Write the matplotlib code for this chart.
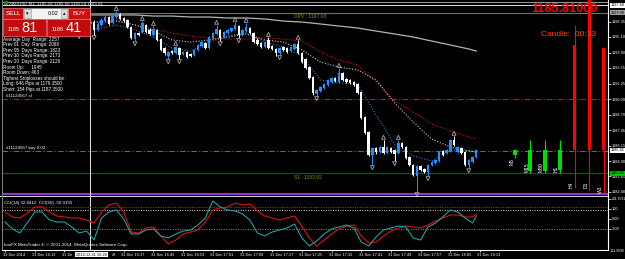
import matplotlib
matplotlib.use('Agg')
import matplotlib.pyplot as plt
import numpy as np
from matplotlib.patches import Rectangle
from matplotlib.transforms import blended_transform_factory as btf, ScaledTranslation

# ---------------- data ----------------
bar_open = [1196.48,1196.31,1196.07,1195.82,1195.66,1195.90,1196.23,1196.56,1196.80,1196.89,
            1196.72,1196.80,1196.56,1196.31,1196.39,1196.15,1196.07,1196.15,1195.90,1195.74,
            1195.49,1195.66,1195.90,1196.15,1196.31,1195.66,1196.07,1196.39,1196.72,1196.23,
            1196.72,1196.97,1196.64,1196.48,1195.90,1194.92,1195.41,1195.49,1196.07,1195.66,
            1195.25,1195.66,1194.92,1194.18,1193.52,1193.93,1193.77,1194.18,1193.69,1193.85,
            1193.69,1193.61,1194.02,1194.34,1194.59,1194.18,1195.00,1195.33,1195.66,1195.08,
            1195.41,1195.57,1195.74,1195.98,1195.25,1195.57,1195.82,1195.41,1194.84,1194.59,
            1194.26,1194.84,1194.34,1194.10,1193.77,1194.26,1194.18,1193.93,1194.10,1194.51,
            1193.77,1193.28,1192.62,1191.80,1190.41,1190.66,1190.90,1191.15,1191.39,1191.72,
            1191.39,1192.13,1191.64,1191.56,1191.39,1191.23,1190.57,1188.52,1187.30,1185.41,
            1185.98,1185.66,1186.07,1185.57,1185.98,1185.82,1185.57,1186.39,1186.07,1185.25,
            1184.59,1183.69,1184.51,1184.26,1184.02,1184.59,1184.75,1184.92,1185.74,1185.57,
            1185.74,1186.64,1185.66,1185.98,1185.66,1184.59,1184.84,1185.25]
bar_close = [1196.31,1196.07,1195.82,1195.66,1195.90,1196.23,1196.56,1196.80,1196.89,1196.72,
             1196.80,1196.56,1196.31,1196.39,1196.15,1196.07,1196.15,1195.90,1195.74,1195.49,
             1195.66,1195.90,1196.15,1196.31,1195.66,1196.15,1196.48,1196.72,1196.15,1196.80,
             1197.05,1196.56,1196.39,1195.90,1195.00,1195.41,1195.25,1196.23,1195.49,1195.33,
             1195.74,1194.84,1194.02,1193.77,1193.85,1193.77,1194.26,1193.61,1193.85,1193.44,
             1193.52,1194.02,1194.43,1194.67,1194.18,1195.08,1195.41,1195.74,1195.00,1195.49,
             1195.66,1195.82,1196.07,1195.25,1195.66,1195.90,1195.41,1194.67,1194.51,1194.26,
             1194.67,1194.18,1194.10,1193.77,1194.18,1194.02,1193.85,1194.26,1194.51,1193.77,
             1193.03,1192.54,1191.72,1190.49,1190.74,1190.98,1191.23,1191.56,1191.72,1191.48,
             1192.13,1191.56,1191.39,1191.31,1191.15,1190.49,1188.44,1187.21,1185.41,1185.98,
             1185.66,1186.07,1185.57,1186.07,1185.66,1185.49,1186.39,1186.07,1185.16,1184.59,
             1183.77,1184.51,1184.18,1184.02,1184.59,1184.84,1185.00,1185.66,1185.41,1185.82,
             1186.64,1186.23,1186.07,1185.57,1184.59,1185.00,1185.25,1185.81]
bar_high = [1196.56,1196.39,1196.15,1195.90,1195.98,1196.31,1196.64,1196.89,1197.05,1196.97,
            1196.89,1196.89,1196.64,1196.48,1196.48,1196.23,1196.23,1196.23,1195.98,1195.82,
            1195.74,1195.98,1196.23,1196.39,1196.48,1196.31,1196.64,1196.89,1196.80,1196.97,
            1197.21,1197.05,1196.72,1196.56,1195.98,1195.49,1195.49,1196.39,1196.15,1195.82,
            1195.98,1195.74,1195.00,1194.26,1193.93,1194.02,1194.34,1194.26,1193.93,1193.93,
            1193.77,1194.10,1194.51,1194.75,1194.67,1195.16,1195.49,1196.07,1195.74,1195.57,
            1195.74,1195.90,1196.31,1196.07,1195.74,1196.23,1195.90,1195.49,1195.00,1194.67,
            1194.75,1195.08,1194.43,1194.18,1194.26,1194.34,1194.26,1194.34,1194.59,1194.84,
            1193.85,1193.36,1192.70,1191.89,1190.82,1191.07,1191.31,1191.64,1191.80,1191.80,
            1192.54,1192.21,1191.72,1191.64,1191.48,1191.31,1190.66,1188.61,1187.38,1186.07,
            1186.07,1186.15,1186.64,1186.15,1186.07,1185.90,1186.64,1186.48,1186.15,1185.33,
            1184.67,1184.59,1184.59,1184.34,1184.67,1184.92,1185.08,1185.74,1185.82,1185.90,
            1186.72,1186.97,1186.15,1186.07,1185.74,1185.08,1185.33,1185.90]
bar_low = [1196.23,1195.98,1195.74,1195.49,1195.41,1195.82,1196.15,1196.48,1196.64,1196.64,
           1196.56,1196.48,1196.23,1196.15,1196.07,1195.90,1195.98,1195.82,1195.57,1195.41,
           1195.33,1195.57,1195.82,1196.07,1195.25,1195.57,1195.98,1196.31,1196.07,1196.15,
           1196.64,1196.48,1196.31,1195.82,1194.92,1194.75,1195.16,1195.41,1195.41,1195.25,
           1195.16,1194.75,1193.93,1193.61,1193.28,1193.69,1193.69,1193.28,1193.61,1193.36,
           1193.44,1193.52,1193.93,1194.26,1194.10,1194.10,1194.92,1195.25,1194.75,1195.00,
           1195.33,1195.49,1195.66,1195.00,1195.16,1195.49,1195.33,1194.59,1194.43,1194.18,
           1194.18,1194.10,1194.02,1193.52,1193.61,1193.93,1193.77,1193.85,1194.02,1193.69,
           1192.95,1192.46,1191.64,1190.33,1190.25,1190.57,1190.82,1191.07,1191.31,1191.39,
           1191.31,1191.48,1191.31,1191.23,1191.07,1190.41,1188.36,1187.13,1185.33,1184.59,
           1185.49,1185.57,1185.49,1185.49,1185.57,1184.92,1185.49,1185.98,1185.08,1184.51,
           1183.69,1182.38,1184.10,1183.93,1183.69,1184.51,1184.67,1184.84,1185.33,1185.49,
           1185.66,1186.15,1185.57,1185.49,1184.51,1184.34,1184.75,1185.16]
frac_up = [30, 37, 40, 46, 57, 62, 65, 71, 79, 90, 102, 106, 121]
frac_dn = [20, 24, 35, 44, 47, 58, 63, 74, 84, 99, 105, 111, 114, 125]

ma_idx = [0, 5, 10, 15, 20, 25, 30, 35, 40, 45, 50, 55, 60, 65, 70, 75, 80, 85, 90, 95,
          100, 105, 110, 115, 120, 125, 127]
ma_red = [1196.31,1196.31,1196.31,1196.31,1196.31,1196.31,1196.48,1196.07,1195.74,1195.41,
          1195.16,1195.00,1194.92,1194.92,1195.00,1194.92,1194.75,1193.85,1193.20,1192.79,
          1191.39,1189.84,1188.93,1187.95,1187.38,1186.89,1186.72]
ma_white = [1196.48,1196.39,1196.39,1196.31,1196.23,1196.31,1196.39,1196.07,1195.57,1194.84,
            1194.67,1194.84,1195.08,1195.33,1194.84,1194.67,1194.02,1193.03,1192.62,1192.38,
            1191.56,1189.67,1188.11,1186.72,1186.07,1185.74,1185.66]
ma_blue = [1196.15,1196.07,1196.31,1196.39,1195.98,1195.74,1196.07,1195.66,1195.08,1194.18,
           1193.93,1194.67,1195.16,1195.41,1194.67,1194.26,1193.52,1191.56,1191.31,1191.23,
           1188.69,1186.31,1185.33,1184.92,1185.82,1185.74,1185.66]
ma_gray = [1196.97,1196.97,1196.97,1196.97,1196.89,1196.89,1196.89,1196.89,1196.80,1196.80,
           1196.72,1196.72,1196.64,1196.64,1196.56,1196.39,1196.31,1196.15,1195.98,1195.82,
           1195.57,1195.33,1195.08,1194.75,1194.43,1194.10,1193.93]

cci_idx = list(range(0, 128, 2)) + [127]
cci14 = [-30,-100,-140,-40,70,70,-10,-30,-30,-80,-140,-120,-210,10,70,90,0,-150,-150,-110,
         -100,-170,-190,-150,-120,-110,-60,10,180,120,90,80,50,-10,-140,-170,-130,-110,-90,-50,
         -190,-270,-220,-150,-100,-80,-60,-90,-230,-270,-180,-110,-90,-70,-80,-190,-210,-80,-40,20,
         90,70,10,-40,30]
cci50 = [70,20,10,60,120,120,70,30,20,10,10,-10,-40,70,140,160,70,-130,-140,-90,
         -80,-170,-250,-210,-150,-130,-110,-30,90,110,120,160,140,150,80,30,10,-10,10,30,
         -70,-190,-270,-210,-150,-100,-70,-60,-170,-240,-230,-170,-120,-90,-70,-80,-90,-60,-20,10,
         40,40,20,20,50]
cci_levels = [120, 90, -100]
cci_level_colors = ['#c03018', '#d0d0d0', '#909090']

time_idx = list(range(0, 129, 8))
time_labels = ['31 Dec 2014', '31 Dec 16:13', '31 Dec 16:21', '31 Dec 16:29', '31 Dec 16:37',
               '31 Dec 16:45', '31 Dec 16:53', '31 Dec 17:01', '31 Dec 17:09', '31 Dec 17:17',
               '31 Dec 17:25', '31 Dec 17:33', '31 Dec 17:41', '31 Dec 17:49', '31 Dec 17:57',
               '31 Dec 18:05', '31 Dec 18:13']
cursor_label = '2014.12.31 16:28'
price_ticks = [1196.35, 1195.10, 1193.80, 1192.55, 1191.25, 1190.00, 1188.70, 1187.45,
               1186.15, 1184.90, 1183.65, 1182.40]

tf_names = ['M5', 'M15', 'M30', 'H1', 'H4', 'D1', 'W1']
tf_open = [1185.41, 1184.10, 1184.10, 1184.18, 1194.43, 1199.50, 1194.18]
tf_high = [1185.90, 1186.64, 1186.64, 1186.64, 1196.07, 1199.80, 1194.18]
tf_low = [1185.16, 1183.93, 1183.93, 1183.93, 1182.70, 1182.54, 1182.30]
tf_close = [1185.81, 1185.81, 1185.81, 1185.81, 1185.81, 1185.81, 1185.81]

level_top = [1197.92, 1197.68]
level_dpv = 1197.08
level_sl = 1190.00
level_buy = 1185.74
level_s1 = 1183.92
level_purple = 1182.21
bid_price = 1185.81
vline_bar = 23

info_rows = ["Average Day  Range: 2257", "Prev 01  Day  Range: 2068", "Prev 05  Days Range: 1823",
             "Prev 10  Days Range: 2173", "Prev 20  Days Range: 2126", "Room Up:      1945",
             "Room Down: 463", "Tighest Stoplosses should be :", "Long: 646 Pips at 1179.3500",
             "Short: 154 Pips at 1187.3500"]

# ---------------- figure ----------------
W, H = 625, 259
plt.rcParams['font.family'] = ['Liberation Sans', 'DejaVu Sans']
fig = plt.figure(figsize=(W / 100, H / 100), dpi=100, facecolor='black')

def fbox(x0, y0, x1, y1):
    return [x0 / W, 1 - y1 / H, (x1 - x0) / W, (y1 - y0) / H]

ax = fig.add_axes(fbox(2, 0, 608, 196))
axc = fig.add_axes(fbox(2, 197, 608, 250))
XL = (-0.81, 162.5)
for a in (ax, axc):
    a.set_facecolor('black')
    a.set_xlim(*XL)
    for s in ('top', 'bottom', 'left'):
        a.spines[s].set_visible(False)
    a.spines['right'].set_color('white')
    a.spines['right'].set_linewidth(0.8)
ax.set_ylim(1182.049, 1198.115)
axc.set_ylim(-310, 220)

TS = 2.8  # tiny label font size

# --- main price panel ---
o = np.array(bar_open); c = np.array(bar_close)
hi = np.array(bar_high); lo = np.array(bar_low)
idx = np.arange(len(c))
cols = np.where(c >= o, '#1e90ff', '#ffffff')
ax.vlines(idx, lo, hi, colors=cols, lw=0.7, zorder=4)
ax.bar(idx, np.maximum(np.abs(c - o), 0.03), bottom=np.minimum(o, c), width=0.66,
       color=cols, lw=0, zorder=5)

ax.plot(ma_idx, ma_gray, color='#b4b4b4', lw=0.9, zorder=3)
ax.plot(ma_idx, ma_red, color='#d01010', lw=0.8, ls=(0, (1, 1.5)), zorder=3)
ax.plot(ma_idx, ma_white, color='#c8c8c8', lw=0.8, ls=(0, (1, 1.5)), zorder=3)
ax.plot(ma_idx, ma_blue, color='#3a78c8', lw=0.8, ls=(0, (1, 1.5)), zorder=3)

ax.scatter(frac_up, hi[frac_up] + 0.22, marker='^', s=8, facecolors='none',
           edgecolors='#a8a8a8', linewidths=0.6, zorder=6)
ax.scatter(frac_dn, lo[frac_dn] - 0.22, marker='v', s=8, facecolors='none',
           edgecolors='#a8a8a8', linewidths=0.6, zorder=6)

ax.axhline(level_top[0], color='#9a9a9a', lw=0.7)
ax.axhline(level_top[1], color='#e0e0e0', lw=0.7)
ax.axhline(level_dpv, color='#707070', lw=0.8)
ax.axhline(level_sl, color='#d01010', lw=0.8, ls=(0, (5, 2, 1, 2)))
ax.axhline(level_buy, color='#10a010', lw=0.8, ls=(0, (5, 2, 1, 2)))
ax.axhline(level_s1, color='#006400', lw=0.9)
ax.axhline(level_purple, color='#9932cc', lw=1.5)
ax.axvline(vline_bar, color='#e8e8e8', lw=0.7, zorder=2)
axc.axvline(vline_bar, color='#e8e8e8', lw=0.7, zorder=2)

ax.text(78, level_dpv - 0.1, 'DPV : %.2f' % level_dpv, color='#8c8c00', fontsize=3.6,
        ha='left', va='top')
ax.text(78, level_s1 - 0.18, 'S1 : %.2f' % level_s1, color='#8c8c00', fontsize=3.6,
        ha='left', va='top')
ax.text(0.2, level_sl + 0.06, '#11124567 sl', color='white', fontsize=3.2, ha='left', va='bottom')
ax.text(0.2, level_buy + 0.06, '#11124567 buy 0.02', color='white', fontsize=3.2,
        ha='left', va='bottom')

# multi timeframe candles
tf_pos = [137.5, 141.5, 145.5, 149.5, 153.5, 157.5, 161.3]
for k, name in enumerate(tf_names):
    col = '#00e000' if tf_close[k] >= tf_open[k] else '#ff0000'
    ax.vlines(tf_pos[k], tf_low[k], tf_high[k], colors=col, lw=0.8, zorder=4)
    ax.bar(tf_pos[k], abs(tf_close[k] - tf_open[k]), bottom=min(tf_open[k], tf_close[k]),
           width=0.95, color=col, lw=0, zorder=4)
tf_lab_y = [1184.84, 1184.43, 1184.43, 1184.26, 1182.95, 1182.95, 1182.62]
for k, name in enumerate(tf_names):
    ax.text(tf_pos[k] - 0.9, tf_lab_y[k], name, color='white', fontsize=3.6, rotation=90,
            ha='center', va='center', zorder=7)

# right axis
ax.yaxis.tick_right()
ax.set_yticks(price_ticks)
ax.set_yticklabels(['%.2f' % v for v in price_ticks])
ax.tick_params(axis='y', colors='white', labelsize=TS, length=2, width=0.5, pad=0.6)
ax.set_xticks([])
tr = btf(ax.transAxes, ax.transData)
for val, fc in ((bid_price, 'white'), (level_s1, '#00c000'), (level_dpv, '#a0a0a0'),
                (level_top[1], 'white')):
    ax.text(1.004, val, '%.2f' % val, transform=tr, fontsize=TS, color='black',
            va='center', ha='left', bbox=dict(boxstyle='square,pad=0.12', fc=fc, ec='none'),
            zorder=8, clip_on=False)

# --- CCI panel ---
axc.plot(cci_idx, cci50, color='#e01010', lw=0.8, zorder=3)
axc.plot(cci_idx, cci14, color='#20a0a0', lw=0.8, zorder=3)
for lv, lc in zip(cci_levels, cci_level_colors):
    axc.axhline(lv, color=lc, lw=0.7, ls=(0, (1, 1.5)), zorder=2)
axc.yaxis.tick_right()
axc.set_yticks([200, 100, 0, -100])
axc.set_yticklabels(['241.8731', '100', '0.00', '-100'])
axc.tick_params(axis='y', colors='white', labelsize=TS, length=2, width=0.5, pad=0.6)
for lab in axc.get_yticklabels():
    if len(lab.get_text()) > 6:
        lab.set_fontsize(2.4)
axc.text(1.003, -0.02, '-111.9938', transform=axc.transAxes, fontsize=2.4, color='white',
         ha='left', va='center', clip_on=False)

# time axis: the cursor box hides part of two labels, as in the reference
shown_labels = list(time_labels)
shown_labels[2] = time_labels[2][:5]
shown_labels[3] = ''
axc.set_xticks(time_idx)
axc.set_xticklabels(shown_labels, ha='left')
axc.tick_params(axis='x', colors='white', labelsize=TS, length=1.5, width=0.5, pad=1)
shift = ScaledTranslation(-2.5 / 100, 0, fig.dpi_scale_trans)
for lab in axc.get_xticklabels():
    lab.set_transform(lab.get_transform() + shift)
axc.spines['bottom'].set_visible(True)
axc.spines['bottom'].set_color('white')
axc.spines['bottom'].set_linewidth(0.8)
axc.text(0.003, 0.93, 'CCI(14) 32.8412  CCI(50) -50.9155', transform=axc.transAxes,
         fontsize=3.2, color='white', ha='left', va='top')
axc.text(0.003, 0.05, 'IronFX MetaTrader 4, \u00a9 2001-2014, MetaQuotes Software Corp.',
         transform=axc.transAxes, fontsize=3.2, color='white', ha='left', va='bottom')

# --- overlay (panel, texts) in pixel coordinates ---
ov = fig.add_axes([0, 0, 1, 1], zorder=10)
ov.set_xlim(0, W); ov.set_ylim(H, 0); ov.axis('off'); ov.patch.set_alpha(0)

def rect(x0, y0, x1, y1, fc, ec='none', lw=0.5):
    ov.add_patch(Rectangle((x0, y0), x1 - x0, y1 - y0, fc=fc, ec=ec, lw=lw))

# separator between windows
rect(0, 196, 608, 197.2, '#d0d0d0')
rect(2, 0, 2.8, 250, '#808080')

# title
ov.text(9, 3.2, 'XAUUSD,M1  1185.54 1185.60 1185.54 1185.81', color='#e0e0e0', fontsize=3.2,
        ha='left', va='center')
rect(3.5, 1.2, 7.5, 5.2, '#208020')

# trading panel
rect(3, 8, 23, 19, '#cc1010', ec='#ff8080')
rect(23, 8, 68, 19, '#f4f4f4', ec='#909090')
rect(24, 9, 31, 18, '#dcdcdc', ec='#a0a0a0')
rect(61, 9, 67, 18, '#dcdcdc', ec='#a0a0a0')
rect(68, 8, 90, 19, '#cc1010', ec='#ff8080')
rect(3, 19, 46, 36, '#c00c0c', ec='#ff7070')
rect(47, 19, 90, 36, '#c00c0c', ec='#ff7070')
ov.text(13, 13.5, 'SELL', color='white', fontsize=4.6, ha='center', va='center')
ov.text(79, 13.5, 'BUY', color='white', fontsize=4.6, ha='center', va='center')
ov.text(27.5, 13.5, '\u25be', color='black', fontsize=3.5, ha='center', va='center')
ov.text(64, 13.5, '\u25b4', color='black', fontsize=3.5, ha='center', va='center')
ov.text(58, 13.5, '0.02', color='black', fontsize=4, ha='right', va='center')
ov.text(8, 31, '1185', color='white', fontsize=4, ha='left', va='baseline')
ov.text(21, 32, '81', color='white', fontsize=10.5, ha='left', va='baseline')
ov.text(52, 31, '1186', color='white', fontsize=4, ha='left', va='baseline')
ov.text(66, 32, '41', color='white', fontsize=10.5, ha='left', va='baseline')
for k, row in enumerate(info_rows):
    ov.text(3, 39 + 5.6 * k, row, color='white', fontsize=3.3, ha='left', va='center')

# big price and candle timer
ov.text(598, 9.5, '1185.81000', color='#ff0000', fontsize=9.2, fontweight='bold',
        ha='right', va='center')
ov.text(596, 34, 'Candle:  00:33', color='#ff4010', fontsize=6, ha='right', va='center')

# time cursor box and the visible tail of the label it hides
ov.text(91.5, 254.5, cursor_label, color='black', fontsize=TS, ha='center', va='center',
        bbox=dict(boxstyle='square,pad=0.2', fc='white', ec='none'))
ov.text(112, 254.5, time_labels[3][-2:], color='white', fontsize=TS, ha='left', va='center')

fig.savefig('out.png', dpi=100, facecolor='black')
